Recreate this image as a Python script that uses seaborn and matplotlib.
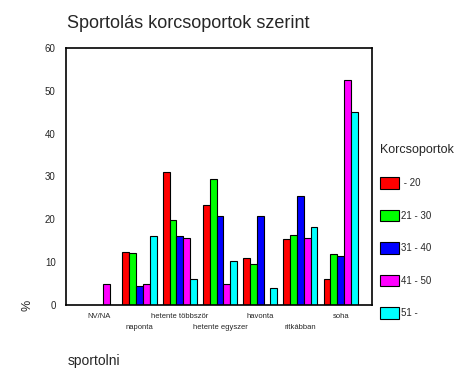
import matplotlib
matplotlib.use("Agg")
import matplotlib.pyplot as plt
import seaborn as sns
import pandas as pd
import numpy as np

categories = ["NV/NA", "naponta", "hetente többször", "hetente egyszer",
              "havonta", "ritkábban", "soha"]
age_groups = [" - 20", "21 - 30", "31 - 40", "41 - 50", "51 - "]
colors = ["#ff0000", "#00ff00", "#0000ff", "#ff00ff", "#00ffff"]

# percent per age group, one list per group, in category order
g_20 = [np.nan, 12.3, 31.0, 23.3, 10.9, 15.5, 6.0]
g_21_30 = [np.nan, 12.1, 19.8, 29.4, 9.5, 16.3, 12.0]
g_31_40 = [np.nan, 4.4, 16.0, 20.8, 20.8, 25.4, 11.5]
g_41_50 = [5.0, 5.0, 15.6, 5.0, np.nan, 15.6, 52.6]
g_51 = [np.nan, 16.1, 6.0, 10.2, 4.0, 18.2, 45.0]

series = [g_20, g_21_30, g_31_40, g_41_50, g_51]
rows = []
for grp, vals in zip(age_groups, series):
    for cat, v in zip(categories, vals):
        rows.append({"sportolni": cat, "Korcsoportok": grp, "pct": v})
df = pd.DataFrame(rows)

sns.set_style("white")
plt.rcParams["font.family"] = ["Liberation Sans", "DejaVu Sans"]

fig = plt.figure(figsize=(4.7, 3.77), dpi=100)
ax = fig.add_axes([0.1404, 0.191, 0.651, 0.682])

sns.barplot(data=df, x="sportolni", y="pct", hue="Korcsoportok",
            hue_order=age_groups, order=categories, palette=colors,
            width=0.85, edgecolor="black", linewidth=0.8, saturation=1,
            ax=ax, legend=False)

ax.set_xlim(-0.83, 6.78)
ax.set_ylim(0, 60)
ax.set_yticks(range(0, 61, 10))
ax.tick_params(axis="y", labelsize=7, length=3, width=2, direction="inout", pad=6)
ax.set_xticks(range(len(categories)))
ax.set_xticklabels(categories, fontsize=5.5)
ax.tick_params(axis="x", length=3, width=2, direction="inout", pad=4)
# alternate rows for the category labels
for lbl in ax.get_xticklabels()[1::2]:
    lbl.set_y(-0.045)
for s in ax.spines.values():
    s.set_color("black")
    s.set_linewidth(1.2)

ax.set_xlabel("")
ax.set_ylabel("%", fontsize=9)
ax.yaxis.set_label_coords(-0.105, 0.0)
fig.text(0.145, 0.032, "sportolni", fontsize=10)
fig.text(0.143, 0.925, "Sportolás korcsoportok szerint", fontsize=13)

handles = [plt.Rectangle((0, 0), 1, 1, facecolor=c, edgecolor="black", linewidth=0.8)
           for c in colors]
leg = fig.legend(handles, age_groups, title="Korcsoportok", loc="upper left",
                 bbox_to_anchor=(0.79, 0.64), frameon=False, fontsize=7,
                 title_fontsize=9, handlelength=1.9, handleheight=1.45,
                 labelspacing=2.15, handletextpad=0.3, alignment="left")

fig.savefig("out.png", dpi=100)
